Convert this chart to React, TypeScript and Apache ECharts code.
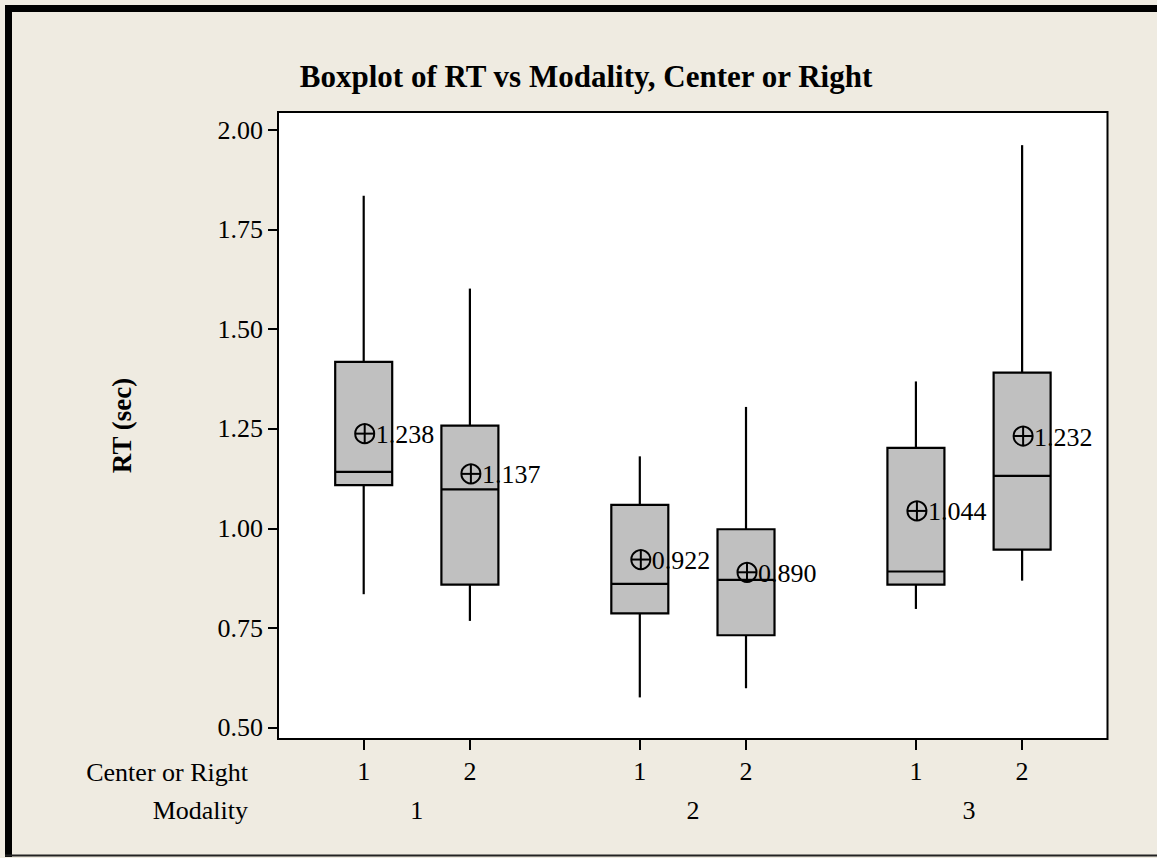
import React, { useEffect, useRef } from "react";
import * as echarts from "echarts";

// ---- data ----
const modality = [1, 1, 2, 2, 3, 3];
const centerOrRight = [1, 2, 1, 2, 1, 2];
const whiskerLow = [0.835, 0.768, 0.576, 0.599, 0.798, 0.869];
const q1 = [1.109, 0.859, 0.787, 0.732, 0.859, 0.947];
const median = [1.142, 1.098, 0.861, 0.871, 0.892, 1.132];
const q3 = [1.418, 1.258, 1.059, 0.998, 1.202, 1.391];
const whiskerHigh = [1.835, 1.602, 1.181, 1.305, 1.369, 1.962];
const means = [1.238, 1.137, 0.922, 0.89, 1.044, 1.232];
const yTicks = [0.5, 0.75, 1.0, 1.25, 1.5, 1.75, 2.0];
const modalityLabels = ["1", "2", "3"];

const TITLE = "Boxplot of RT vs Modality, Center or Right";
const Y_NAME = "RT (sec)";
const ROW1_NAME = "Center or Right";
const ROW2_NAME = "Modality";

// ---- layout helpers ----
const GROUP_STRIDE = 2.6;
const xPos = modality.map((m, i) => (m - 1) * GROUP_STRIDE + (centerOrRight[i] - 1));
const groupCenters = modalityLabels.map((_, g) => g * GROUP_STRIDE + 0.5);

const SERIF = "'Liberation Serif', 'Times New Roman', serif";
const BG = "#EFEBE1";
const FS = 26;

export default function App() {
  const ref = useRef<HTMLDivElement>(null);

  useEffect(() => {
    if (!ref.current) return;
    const chart = echarts.init(ref.current, null, { renderer: "svg" });

    const data = xPos.map((x, i) => [
      x,
      whiskerLow[i],
      q1[i],
      median[i],
      q3[i],
      whiskerHigh[i],
      means[i],
    ]);

    const nearestIndex = (arr: number[], v: number) => {
      let best = 0;
      for (let i = 1; i < arr.length; i++) {
        if (Math.abs(arr[i] - v) < Math.abs(arr[best] - v)) best = i;
      }
      return best;
    };

    const option: any = {
      animation: false,
      backgroundColor: BG,
      grid: {
        left: 278,
        top: 112,
        width: 829.5,
        height: 627,
        show: true,
        backgroundColor: "#FFFFFF",
        borderColor: "#000000",
        borderWidth: 2,
        containLabel: false,
        outerBoundsMode: "none",
      },
      xAxis: [
        {
          type: "value",
          min: -0.807,
          max: 7.004,
          axisLine: { show: false, onZero: false },
          splitLine: { show: false },
          axisTick: {
            show: true,
            customValues: xPos,
            length: 11,
            lineStyle: { color: "#000", width: 2 },
          },
          axisLabel: {
            customValues: xPos,
            formatter: (v: number) => String(centerOrRight[nearestIndex(xPos, v)]),
            margin: 19,
            color: "#000",
            fontSize: FS,
            fontFamily: SERIF,
          },
        },
        {
          type: "value",
          position: "bottom",
          min: -0.807,
          max: 7.004,
          axisLine: { show: false, onZero: false },
          splitLine: { show: false },
          axisTick: { show: false },
          axisLabel: {
            customValues: groupCenters,
            formatter: (v: number) => modalityLabels[nearestIndex(groupCenters, v)],
            margin: 58,
            color: "#000",
            fontSize: FS,
            fontFamily: SERIF,
          },
        },
      ],
      yAxis: {
        type: "value",
        min: 0.4716,
        max: 2.0452,
        axisLine: { show: false, onZero: false },
        splitLine: { show: false },
        axisTick: {
          show: true,
          customValues: yTicks,
          length: 10,
          lineStyle: { color: "#000", width: 2 },
        },
        axisLabel: {
          customValues: yTicks,
          formatter: (v: number) => v.toFixed(2),
          margin: 15,
          color: "#000",
          fontSize: FS,
          fontFamily: SERIF,
        },
        name: Y_NAME,
        nameLocation: "middle",
        nameRotate: 90,
        nameGap: 143,
        nameTextStyle: {
          color: "#000",
          fontWeight: "bold",
          fontSize: 27,
          fontFamily: SERIF,
        },
      },
      graphic: [
        { type: "rect", shape: { x: 5, y: 5, width: 1152, height: 7 }, style: { fill: "#000" }, silent: true },
        { type: "rect", shape: { x: 5, y: 5, width: 7, height: 852 }, style: { fill: "#000" }, silent: true },
        { type: "rect", shape: { x: 5, y: 854.5, width: 1152, height: 2 }, style: { fill: "#222" }, silent: true },
        {
          type: "text",
          x: 586,
          y: 76,
          style: {
            text: TITLE,
            fill: "#000",
            font: `bold 31px ${SERIF}`,
            align: "center",
            verticalAlign: "middle",
          },
        },
        {
          type: "text",
          x: 248,
          y: 772,
          style: {
            text: ROW1_NAME,
            fill: "#000",
            font: `${FS}px ${SERIF}`,
            align: "right",
            verticalAlign: "middle",
          },
        },
        {
          type: "text",
          x: 248,
          y: 810,
          style: {
            text: ROW2_NAME,
            fill: "#000",
            font: `${FS}px ${SERIF}`,
            align: "right",
            verticalAlign: "middle",
          },
        },
      ],
      series: [
        {
          type: "custom",
          xAxisIndex: 0,
          yAxisIndex: 0,
          data,
          encode: { x: 0, y: [1, 2, 3, 4, 5, 6] },
          renderItem: (params: any, api: any) => {
            const x = api.value(0);
            const cx = api.coord([x, api.value(1)])[0];
            const yMin = api.coord([x, api.value(1)])[1];
            const yQ1 = api.coord([x, api.value(2)])[1];
            const yMed = api.coord([x, api.value(3)])[1];
            const yQ3 = api.coord([x, api.value(4)])[1];
            const yMax = api.coord([x, api.value(5)])[1];
            const meanVal = api.value(6);
            const yMean = api.coord([x, meanVal])[1];
            const half = 28.5;
            const r = 9.5;
            const lineStyle = { stroke: "#000", lineWidth: 2.2 };
            return {
              type: "group",
              children: [
                { type: "line", shape: { x1: cx, y1: yMax, x2: cx, y2: yQ3 }, style: lineStyle },
                { type: "line", shape: { x1: cx, y1: yQ1, x2: cx, y2: yMin }, style: lineStyle },
                {
                  type: "rect",
                  shape: { x: cx - half, y: yQ3, width: half * 2, height: yQ1 - yQ3 },
                  style: { fill: "#C0C0C0", stroke: "#000", lineWidth: 2.2 },
                },
                { type: "line", shape: { x1: cx - half, y1: yMed, x2: cx + half, y2: yMed }, style: lineStyle },
                { type: "circle", shape: { cx: cx + 1, cy: yMean, r }, style: { fill: "none", stroke: "#000", lineWidth: 2 } },
                { type: "line", shape: { x1: cx + 1 - r, y1: yMean, x2: cx + 1 + r, y2: yMean }, style: { stroke: "#000", lineWidth: 2 } },
                { type: "line", shape: { x1: cx + 1, y1: yMean - r, x2: cx + 1, y2: yMean + r }, style: { stroke: "#000", lineWidth: 2 } },
                {
                  type: "text",
                  x: cx + 12,
                  y: yMean + 1,
                  style: {
                    text: meanVal.toFixed(3),
                    fill: "#000",
                    font: `${FS}px ${SERIF}`,
                    align: "left",
                    verticalAlign: "middle",
                  },
                },
              ],
            };
          },
        },
      ],
    };

    chart.setOption(option);
    return () => chart.dispose();
  }, []);

  return (
    <div
      ref={ref}
      style={{ position: "absolute", left: 0, top: 0, width: 1157, height: 858 }}
    />
  );
}
